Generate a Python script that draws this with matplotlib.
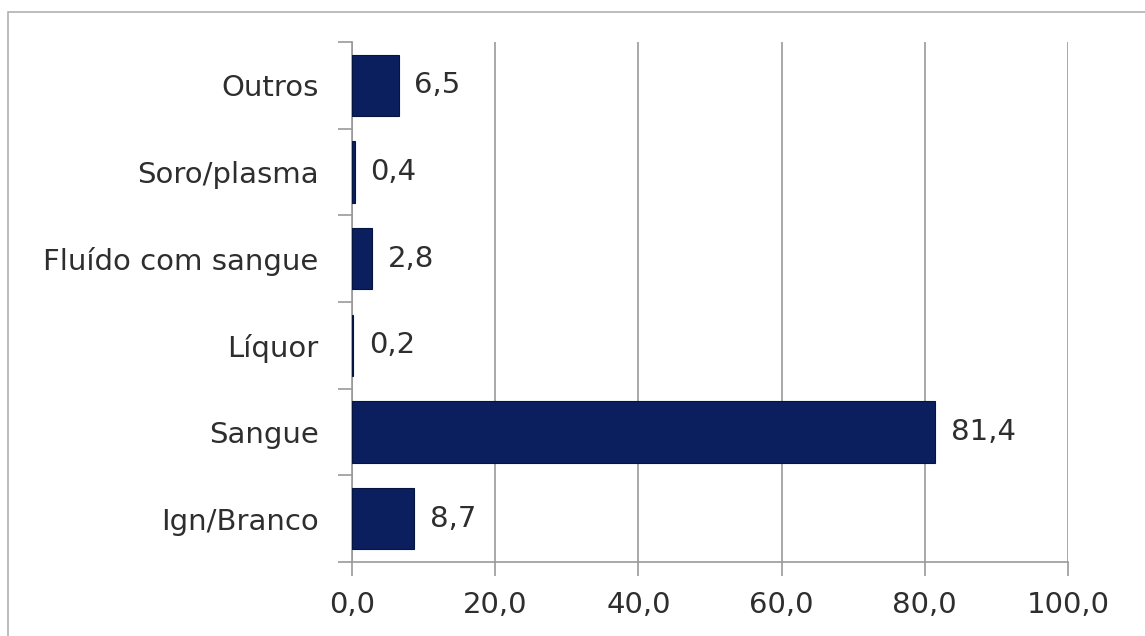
import matplotlib
matplotlib.use("Agg")
import matplotlib.pyplot as plt
from matplotlib.patches import Rectangle
from matplotlib.ticker import FixedLocator

categories = ["Ign/Branco", "Sangue", "Líquor", "Fluído com sangue", "Soro/plasma", "Outros"]
values = [8.7, 81.4, 0.2, 2.8, 0.4, 6.5]
xticks = [0, 20, 40, 60, 80, 100]
xtick_labels = ["0,0", "20,0", "40,0", "60,0", "80,0", "100,0"]

plt.rcParams['font.family'] = ['DejaVu Sans']
text_color = "#2e2e2e"
bar_color = "#0b1f5e"
fs = 21

fig = plt.figure(figsize=(11.45, 6.36), dpi=100)
W, H = 1145, 636
ax = fig.add_axes([352 / W, 1 - 562 / H, (1068 - 352) / W, (562 - 42) / H])

y = list(range(len(categories)))
ax.barh(y, values, height=0.71, color=bar_color, edgecolor="#061440", linewidth=0.8, zorder=3)
for yi, v in zip(y, values):
    ax.text(v + 2.2, yi, f"{v:.1f}".replace(".", ","), va="center", ha="left",
            fontsize=fs, color=text_color)

ax.set_xlim(0, 100)
ax.set_ylim(-0.5, len(categories) - 0.5)
ax.set_xticks(xticks)
ax.set_xticklabels(xtick_labels, fontsize=fs, color=text_color)
ax.set_yticks(y)
ax.set_yticklabels(categories, fontsize=fs, color=text_color)
ax.yaxis.set_minor_locator(FixedLocator([i - 0.5 for i in range(len(categories) + 1)]))
ax.tick_params(axis="y", which="major", length=0, pad=24)
ax.tick_params(axis="y", which="minor", length=10, color="#999999", width=1.2)
ax.tick_params(axis="x", which="major", length=10, color="#999999", width=1.2, pad=11)
ax.grid(axis="x", color="#999999", linewidth=1.2, zorder=0)
for s in ["top", "right"]:
    ax.spines[s].set_visible(False)
for s in ["left", "bottom"]:
    ax.spines[s].set_color("#999999")
    ax.spines[s].set_linewidth(1.2)

fig.patches.append(Rectangle((8 / W, -0.1), 1.2, 1 - 12 / H + 0.1, transform=fig.transFigure,
                             fill=False, edgecolor="#b0b0b0", linewidth=1.2))

fig.savefig("out.png", dpi=100)
